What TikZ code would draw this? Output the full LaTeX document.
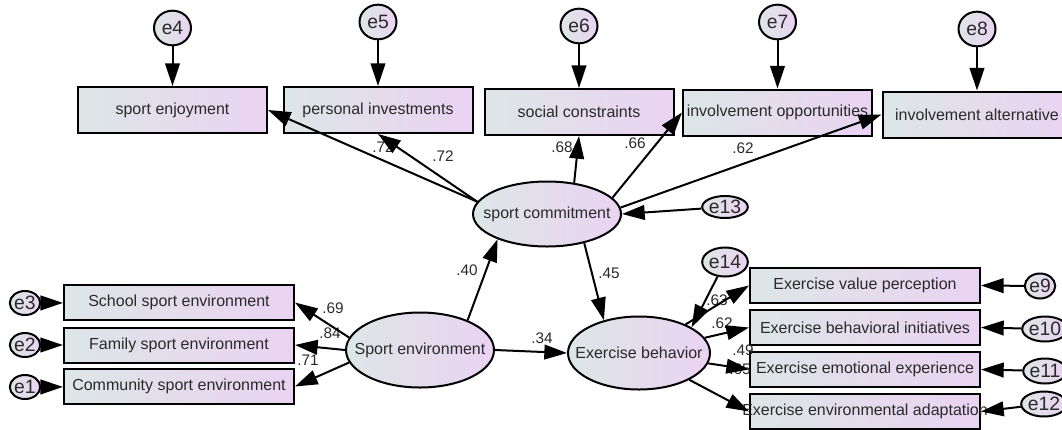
\documentclass[tikz,border=0pt]{standalone}
\usepackage{fontspec}
\setmainfont{Liberation Sans}
\usetikzlibrary{shapes.geometric,arrows.meta}
\definecolor{shadeleft}{HTML}{DDE6E6}
\definecolor{shaderight}{HTML}{EAD3F2}
\definecolor{ink}{HTML}{2A2A2A}

\begin{document}
\begin{tikzpicture}[x=0.75pt,y=0.75pt,
    every node/.style={inner sep=0pt,text=ink},
    every label/.style={font=\fontsize{12}{14}\selectfont,text=ink},
    obs/.style={draw=black,line width=1.5pt,left color=shadeleft,right color=shaderight},
    topbox/.style={obs,minimum width=141.75pt,minimum height=34.5pt},
    sidebox/.style={obs,minimum width=172.5pt,minimum height=26.25pt},
    latent/.style={obs,ellipse},
    err/.style={obs,ellipse,font=\fontsize{14.5}{16}\selectfont},
    coef/.style={font=\fontsize{11.5}{13}\selectfont},
    arr/.style={line width=1.5pt,-{Triangle[length=17pt,width=11pt]}}]
    \useasboundingbox (0,0) rectangle (1062,-429);
    \clip (0,0) rectangle (1062,-429);
    % top indicators
    \node [topbox,label=center:sport enjoyment] (enjoy) at (172.5,-110) {};
    \node [topbox,label=center:personal investments] (invest) at (378,-110) {};
    \node [topbox,label=center:social constraints] (constr) at (579,-112) {};
    \node [topbox,label=center:involvement opportunities] (opport) at (777.5,-112.5) {};
    \node [topbox,label=center:involvement alternative] (altern) at (977,-114.5) {};
    \node [err,minimum width=27.75pt,minimum height=26pt] (e4) at (172.5,-28) {e4};
    \node [err,minimum width=27.75pt,minimum height=26pt] (e5) at (378,-22) {e5};
    \node [err,minimum width=27.75pt,minimum height=26pt] (e6) at (579,-26) {e6};
    \node [err,minimum width=27.75pt,minimum height=26pt] (e7) at (777.5,-22) {e7};
    \node [err,minimum width=27.75pt,minimum height=26pt] (e8) at (977,-29) {e8};
    % latent variables
    \node [latent,minimum width=111pt,minimum height=48.75pt,label=center:sport commitment] (commit) at (547,-214) {};
    \node [latent,minimum width=111pt,minimum height=56.25pt,label=center:Sport environment] (senv) at (420,-350) {};
    \node [latent,minimum width=106.5pt,minimum height=54.75pt,label=center:Exercise behavior] (behav) at (639,-353) {};
    \node [err,minimum width=32pt,minimum height=16.5pt] (e13) at (725,-207) {e13};
    \node [err,minimum width=33.75pt,minimum height=21.75pt] (e14) at (725,-262) {e14};
    % left indicators
    \node [sidebox,label=center:School sport environment] (school) at (179,-302.5) {};
    \node [sidebox,label=center:Family sport environment] (family) at (179,-345) {};
    \node [sidebox,label=center:Community sport environment] (community) at (179,-386.5) {};
    \node [err,minimum width=21pt,minimum height=18pt] (e3) at (25,-303) {e3};
    \node [err,minimum width=21pt,minimum height=18pt] (e2) at (25,-345) {e2};
    \node [err,minimum width=21pt,minimum height=18pt] (e1) at (25,-387) {e1};
    % right indicators
    \node [sidebox,label=center:Exercise value perception] (value) at (865,-285.5) {};
    \node [sidebox,label=center:Exercise behavioral initiatives] (initiat) at (865,-327.5) {};
    \node [sidebox,label=center:Exercise emotional experience] (emotion) at (865,-369.5) {};
    \node [sidebox,label=center:Exercise environmental adaptation] (adapt) at (865,-411.5) {};
    \node [err,minimum width=22.5pt,minimum height=18.75pt] (e9) at (1040,-286) {e9};
    \node [err,minimum width=22.5pt,minimum height=18.75pt] (e10) at (1045,-329) {e10};
    \node [err,minimum width=22.5pt,minimum height=18.75pt] (e11) at (1045,-371) {e11};
    \node [err,minimum width=22.5pt,minimum height=18.75pt] (e12) at (1044,-404) {e12};
    % coefficients
    \node [coef] (c1) at (383,-147) {.72};
    \node [coef] (c2) at (443,-156) {.72};
    \node [coef] (c3) at (562,-147) {.68};
    \node [coef] (c4) at (635,-143) {.66};
    \node [coef] (c5) at (743,-148) {.62};
    \node [coef] (c6) at (467,-270) {.40};
    \node [coef] (c7) at (609,-273) {.45};
    \node [coef] (c8) at (542,-338) {.34};
    \node [coef] (c9) at (333,-308) {.69};
    \node [coef] (c10) at (330,-333) {.84};
    \node [coef] (c11) at (308,-360) {.71};
    \node [coef] (c12) at (717,-300) {.63};
    \node [coef] (c13) at (722,-323) {.62};
    \node [coef] (c14) at (743,-350) {.49};
    \node [coef] (c15) at (740,-369) {.65};
    % paths
    \draw [arr] (e4) -- (enjoy);
    \draw [arr] (e5) -- (invest);
    \draw [arr] (e6) -- (constr);
    \draw [arr] (e7) -- (opport);
    \draw [arr] (e8) -- (altern);
    \draw [arr] (commit.170) -- (enjoy.east);
    \draw [arr] (commit.170) -- (invest.south);
    \draw [arr] (commit.49) -- (constr.south);
    \draw [arr] (commit.14) -- (opport.west);
    \draw [arr] (commit.5) -- (altern.west);
    \draw [arr] (e13) -- (commit.east);
    \draw [arr] (senv.32) -- (commit.207);
    \draw [arr] (commit.-38) -- (behav.137);
    \draw [arr] (senv.east) -- (behav.west);
    \draw [arr] (e14) -- (behav.26);
    \draw [arr] (senv.170) -- (school.east);
    \draw [arr] (senv.180) -- (family.east);
    \draw [arr] (senv.190) -- (community.east);
    \draw [arr] (e3) -- (school);
    \draw [arr] (e2) -- (family);
    \draw [arr] (e1) -- (community);
    \draw [arr] (behav) -- (value.west);
    \draw [arr] (behav) -- (initiat.west);
    \draw [arr] (behav) -- (emotion.west);
    \draw [arr] (behav) -- (adapt.west);
    \draw [arr] (e9) -- (value.east);
    \draw [arr] (e10) -- (initiat.east);
    \draw [arr] (e11) -- (emotion.east);
    \draw [arr] (e12) -- (adapt.east);
\end{tikzpicture}
\end{document}
